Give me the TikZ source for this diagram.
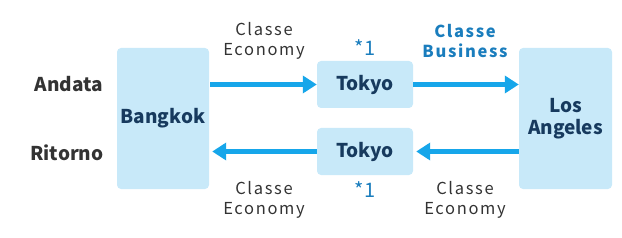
\documentclass[tikz,border=0pt]{standalone}
\usepackage{fontspec}
\setmainfont{Noto Sans CJK JP}
\newfontfamily\spaced[LetterSpace=10]{Noto Sans CJK JP}
\usetikzlibrary{arrows.meta}
\definecolor{boxfill}{HTML}{C8E9F9}
\definecolor{arrowblue}{HTML}{16A6EA}
\definecolor{navy}{HTML}{173A5E}
\definecolor{txtgray}{HTML}{333333}
\definecolor{bizblue}{HTML}{1A7DBD}
\begin{document}
\begin{tikzpicture}[x=1pt,y=-1pt,
  city/.style={fill=boxfill,rounded corners=4pt,inner sep=0pt,font=\fontsize{19}{22}\selectfont\bfseries,text=navy,align=center},
  side/.style={font=\fontsize{19}{22}\selectfont\bfseries,text=txtgray,anchor=center},
  cls/.style={font=\spaced\fontsize{16.5}{20}\selectfont,text=txtgray,align=center},
  biz/.style={font=\spaced\fontsize{16.5}{20}\selectfont\bfseries,text=bizblue,align=center},
  star/.style={font=\fontsize{20}{22}\selectfont,text=bizblue},
  flow/.style={draw=arrowblue,line width=5pt,-{Triangle[length=14pt,width=17pt]}}]
\useasboundingbox (0,0) rectangle (622,238);
\node[city,minimum width=92pt,minimum height=141pt] (bkk) at (163,118.5) {Bangkok};
\node[city,minimum width=96pt,minimum height=47pt] (tyo1) at (365,84.5) {Tokyo};
\node[city,minimum width=96pt,minimum height=47pt] (tyo2) at (365,151.5) {Tokyo};
\node[city,minimum width=93pt,minimum height=141pt] (lax) at (565.5,118.5) {Los\\Angeles};
\node[side] (and) at (69,84) {Andata};
\node[side] (rit) at (67,153) {Ritorno};
\node[cls] (c1) at (264,41) {Classe\\Economy};
\node[biz] (c2) at (465,41) {Classe\\Business};
\node[cls] (c3) at (264,200) {Classe\\Economy};
\node[cls] (c4) at (465,200) {Classe\\Economy};
\node[star] (s1) at (365,48) {*1};
\node[star] (s2) at (365,190) {*1};
\draw[flow] (bkk.east |- tyo1.west) ++(1,0) coordinate (a1) -- (tyo1.west);
\draw[flow] (tyo1.east) -- (tyo1.east -| lax.west);
\draw[flow] (lax.west |- tyo2.east) -- ([xshift=3pt]tyo2.east);
\draw[flow] (tyo2.west) -- ([xshift=3pt]tyo2.west -| bkk.east);
\end{tikzpicture}
\end{document}
